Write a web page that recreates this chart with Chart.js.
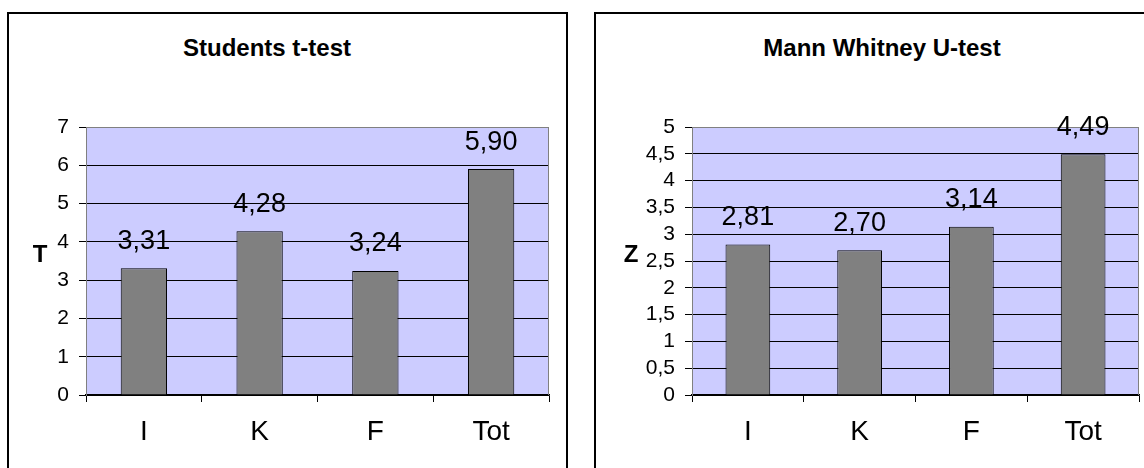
<!DOCTYPE html>
<html>
<head>
<meta charset="utf-8">
<script src="https://cdn.jsdelivr.net/npm/chart.js@4/dist/chart.umd.min.js"></script>
<style>
  html, body { margin: 0; padding: 0; background: #fff; }
  body { width: 1144px; height: 468px; position: relative; overflow: hidden;
         font-family: "Liberation Sans", Arial, sans-serif; }
  .panel { position: absolute; border: 2px solid #000; box-sizing: border-box; }
  .title { position: absolute; font-weight: bold; font-size: 24px; color: #000;
           transform: translate(-50%, -50%); white-space: nowrap; }
  canvas { position: absolute; top: 0; }
</style>
</head>
<body>
<div class="panel" style="left:7px; top:12px; width:561px; height:480px;"></div>
<div class="panel" style="left:594px; top:12px; width:570px; height:480px;"></div>
<div class="title" style="left:267px; top:48px;">Students t-test</div>
<div class="title" style="left:882px; top:48px;">Mann Whitney U-test</div>
<canvas id="tChart" width="572" height="468" style="left:0px;"></canvas>
<canvas id="zChart" width="572" height="468" style="left:572px;"></canvas>
<script>
// Groups shown on both charts
const groups = ['I', 'K', 'F', 'Tot'];
// Student's t-test statistic per group
const tValues = [3.31, 4.28, 3.24, 5.90];
// Mann Whitney U-test z statistic per group
const zValues = [2.81, 2.70, 3.14, 4.49];
// Axis ranges
const tAxis = { min: 0, max: 7, step: 1 };
const zAxis = { min: 0, max: 5, step: 0.5 };

const FONT = '"Liberation Sans", Arial, sans-serif';
const comma = v => String(v).replace('.', ',');

// Lavender plot background and grey right edge of the plot area
const plotBackground = {
  id: 'plotBackground',
  beforeDraw(chart) {
    const { ctx, chartArea: a } = chart;
    ctx.save();
    ctx.fillStyle = '#CCCCFF';
    ctx.fillRect(a.left, a.top, a.right - a.left, a.bottom - a.top);
    ctx.restore();
  },
  beforeDatasetsDraw(chart) {
    const { ctx, chartArea: a } = chart;
    ctx.save();
    ctx.strokeStyle = '#808080';
    ctx.lineWidth = 1;
    ctx.beginPath();
    ctx.moveTo(a.right - 0.5, a.top);
    ctx.lineTo(a.right - 0.5, a.bottom);
    ctx.stroke();
    ctx.restore();
  }
};

// Value labels above each bar, with decimal comma
const valueLabels = {
  id: 'valueLabels',
  afterDatasetsDraw(chart) {
    const { ctx } = chart;
    const meta = chart.getDatasetMeta(0);
    const data = chart.data.datasets[0].data;
    ctx.save();
    ctx.font = '27px ' + FONT;
    ctx.fillStyle = '#000';
    ctx.textAlign = 'center';
    ctx.textBaseline = 'middle';
    meta.data.forEach((bar, i) => {
      ctx.fillText(data[i].toFixed(2).replace('.', ','), bar.x, bar.y - 27);
    });
    ctx.restore();
  }
};

// Upright bold letter naming the vertical axis
const axisLetter = {
  id: 'axisLetter',
  afterDraw(chart, args, opts) {
    const { ctx, chartArea: a } = chart;
    ctx.save();
    ctx.font = 'bold 24px ' + FONT;
    ctx.fillStyle = '#000';
    ctx.textAlign = 'center';
    ctx.textBaseline = 'middle';
    ctx.fillText(opts.text, a.left - opts.dx, (a.top + a.bottom) / 2 - 6);
    ctx.restore();
  }
};

function makeChart(id, values, axis, letter, letterDx, yWidth, padRight) {
  return new Chart(document.getElementById(id), {
    type: 'bar',
    data: {
      labels: groups,
      datasets: [{
        data: values,
        backgroundColor: '#808080',
        borderColor: '#000',
        borderWidth: 1,
        barPercentage: 0.4,
        categoryPercentage: 1.0
      }]
    },
    plugins: [plotBackground, valueLabels, axisLetter],
    options: {
      responsive: false,
      animation: false,
      layout: { padding: { left: 0, right: padRight, top: 127, bottom: 0 } },
      plugins: {
        legend: { display: false },
        tooltip: { enabled: false },
        axisLetter: { text: letter, dx: letterDx }
      },
      scales: {
        x: {
          afterFit(scale) { scale.height = 73; },
          grid: {
            offset: true,
            drawOnChartArea: false,
            drawTicks: true,
            tickLength: 7,
            tickColor: '#000'
          },
          border: { color: '#000', width: 1.5 },
          ticks: {
            color: '#000',
            padding: 13,
            font: { family: FONT, size: 28 }
          }
        },
        y: {
          min: axis.min,
          max: axis.max,
          afterFit(scale) { scale.width = yWidth; },
          grid: {
            color: c => (c.tick && c.tick.value === axis.max) ? '#808080' : '#000',
            lineWidth: 1,
            tickLength: 7,
            tickColor: '#000'
          },
          border: { color: '#808080', width: 1 },
          ticks: {
            stepSize: axis.step,
            autoSkip: false,
            color: '#000',
            padding: 10,
            font: { family: FONT, size: 21 },
            callback: v => comma(v)
          }
        }
      }
    }
  });
}

makeChart('tChart', tValues, tAxis, 'T', 46, 86, 23);
makeChart('zChart', zValues, zAxis, 'Z', 61, 120, 5);
</script>
</body>
</html>
